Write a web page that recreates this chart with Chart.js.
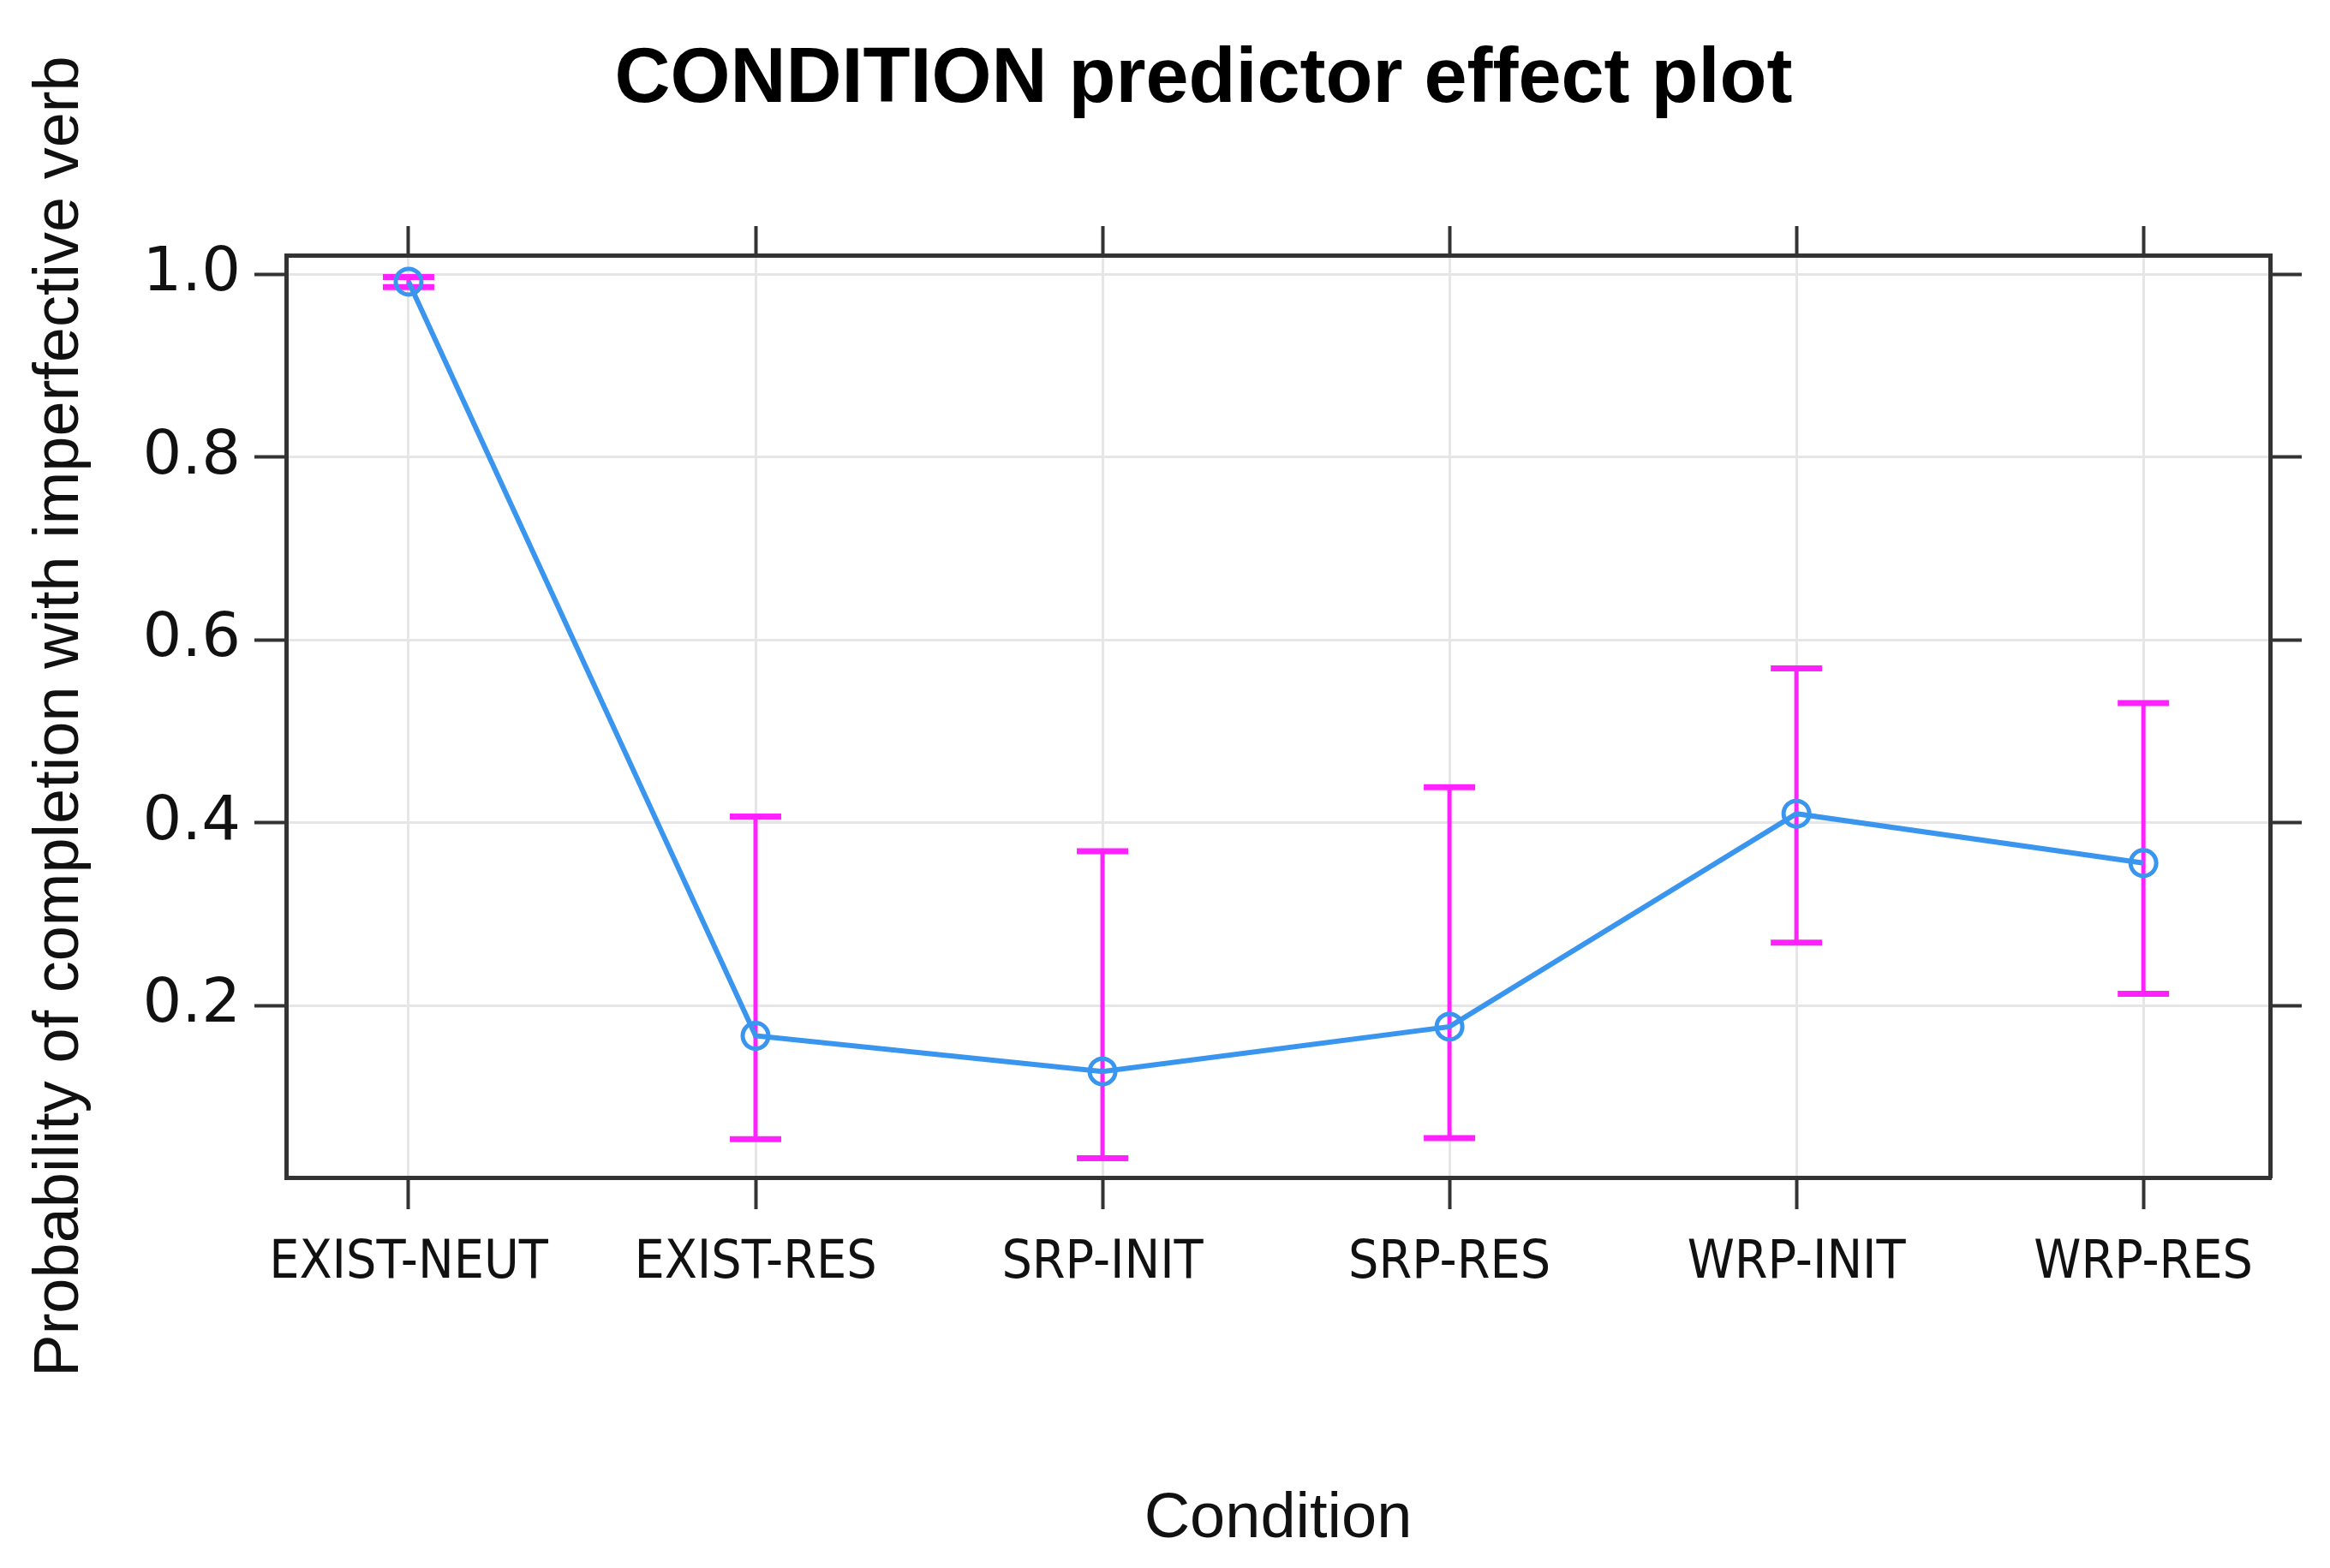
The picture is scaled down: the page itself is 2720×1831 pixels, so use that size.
<!DOCTYPE html>
<html>
<head>
<meta charset="utf-8">
<title>CONDITION predictor effect plot</title>
<script src="https://cdn.jsdelivr.net/npm/chart.js@4.4.1/dist/chart.umd.min.js"></script>
<style>
  html, body { margin: 0; padding: 0; background: #fff; }
  canvas { display: block; }
</style>
</head>
<body>
<canvas id="effectChart" width="2720" height="1831"></canvas>
<script>
// effect estimates per condition, with confidence band
const categories = ['EXIST-NEUT', 'EXIST-RES', 'SRP-INIT', 'SRP-RES', 'WRP-INIT', 'WRP-RES'];
const fitValues = [0.992, 0.167, 0.128, 0.177, 0.410, 0.356];
const lowerValues = [0.986, 0.054, 0.033, 0.055, 0.269, 0.213];
const upperValues = [0.997, 0.407, 0.369, 0.439, 0.569, 0.531];
const yTicks = [0.2, 0.4, 0.6, 0.8, 1.0];

const lineBlue = '#3a95ee';
const barMagenta = '#ff22ff';
const frameColor = '#333333';
const gridColor = '#e6e6e6';

const errorBarSets = categories.map((c, i) => ({
  label: c + ' CI',
  data: [{ x: i, y: lowerValues[i] }, { x: i, y: upperValues[i] }],
  showLine: true,
  borderColor: barMagenta,
  borderWidth: 5,
  pointStyle: 'line',
  pointRadius: 30,
  pointBorderWidth: 7,
  pointBorderColor: barMagenta,
  order: 2
}));

const fitSet = {
  label: 'fit',
  data: categories.map((c, i) => ({ x: i, y: fitValues[i] })),
  showLine: true,
  borderColor: lineBlue,
  borderWidth: 6,
  pointStyle: 'circle',
  pointRadius: 15,
  pointBorderWidth: 5,
  pointBorderColor: lineBlue,
  pointBackgroundColor: 'rgba(0,0,0,0)',
  order: 1
};

const ctx = document.getElementById('effectChart').getContext('2d');
new Chart(ctx, {
  type: 'scatter',
  data: { datasets: [fitSet, ...errorBarSets] },
  options: {
    responsive: false,
    animation: false,
    layout: { padding: 0 },
    plugins: {
      legend: { display: false },
      tooltip: { enabled: false },
      title: {
        display: true,
        // en spaces nudge the centred title a little right, as in the original
        text: '\u2002\u2002CONDITION predictor effect plot',
        color: '#000',
        font: { family: 'Liberation Sans, Arial, sans-serif', size: 90, weight: 'bold' },
        padding: { top: 40, bottom: 113 }
      }
    },
    scales: {
      x: {
        type: 'linear',
        position: 'bottom',
        min: -0.353,
        max: 5.365,
        afterBuildTicks: (scale) => { scale.ticks = categories.map((c, i) => ({ value: i })); },
        afterFit: (scale) => { scale.height = 456; },
        ticks: {
          autoSkip: false,
          maxRotation: 0,
          padding: 27,
          color: '#111',
          font: { family: 'DejaVu Sans Condensed, Liberation Sans, sans-serif', size: 62 },
          callback: (v) => categories[v]
        },
        grid: { color: gridColor, lineWidth: 3, tickLength: 37, tickColor: frameColor, tickWidth: 4 },
        border: { display: true, color: frameColor, width: 5 },
        title: {
          display: true,
          text: 'Condition',
          color: '#111',
          font: { family: 'Liberation Sans, Arial, sans-serif', size: 74 },
          padding: { top: 0, bottom: 12 }
        }
      },
      x2: {
        type: 'linear',
        position: 'top',
        min: -0.353,
        max: 5.365,
        afterBuildTicks: (scale) => { scale.ticks = categories.map((c, i) => ({ value: i })); },
        afterFit: (scale) => { scale.height = 37; },
        ticks: { display: false },
        grid: { drawOnChartArea: false, tickLength: 34, tickColor: frameColor, tickWidth: 4 },
        border: { display: true, color: frameColor, width: 5 }
      },
      y: {
        type: 'linear',
        position: 'left',
        min: 0.012,
        max: 1.021,
        afterBuildTicks: (scale) => { scale.ticks = yTicks.map(v => ({ value: v })); },
        afterFit: (scale) => { scale.width = 334; },
        ticks: {
          padding: 16,
          color: '#111',
          font: { family: 'DejaVu Sans, sans-serif', size: 72 },
          callback: (v) => v.toFixed(1)
        },
        grid: { color: gridColor, lineWidth: 3, tickLength: 37, tickColor: frameColor, tickWidth: 4 },
        border: { display: true, color: frameColor, width: 5 },
        title: {
          display: true,
          text: 'Probability of completion with imperfective verb',
          color: '#111',
          font: { family: 'Liberation Sans, Arial, sans-serif', size: 74 },
          padding: { top: 26, bottom: 0 }
        }
      },
      y2: {
        type: 'linear',
        position: 'right',
        min: 0.012,
        max: 1.021,
        afterBuildTicks: (scale) => { scale.ticks = yTicks.map(v => ({ value: v })); },
        afterFit: (scale) => { scale.width = 70; },
        ticks: { display: false },
        grid: { drawOnChartArea: false, tickLength: 37, tickColor: frameColor, tickWidth: 4 },
        border: { display: true, color: frameColor, width: 5 }
      }
    }
  }
});
</script>
</body>
</html>
